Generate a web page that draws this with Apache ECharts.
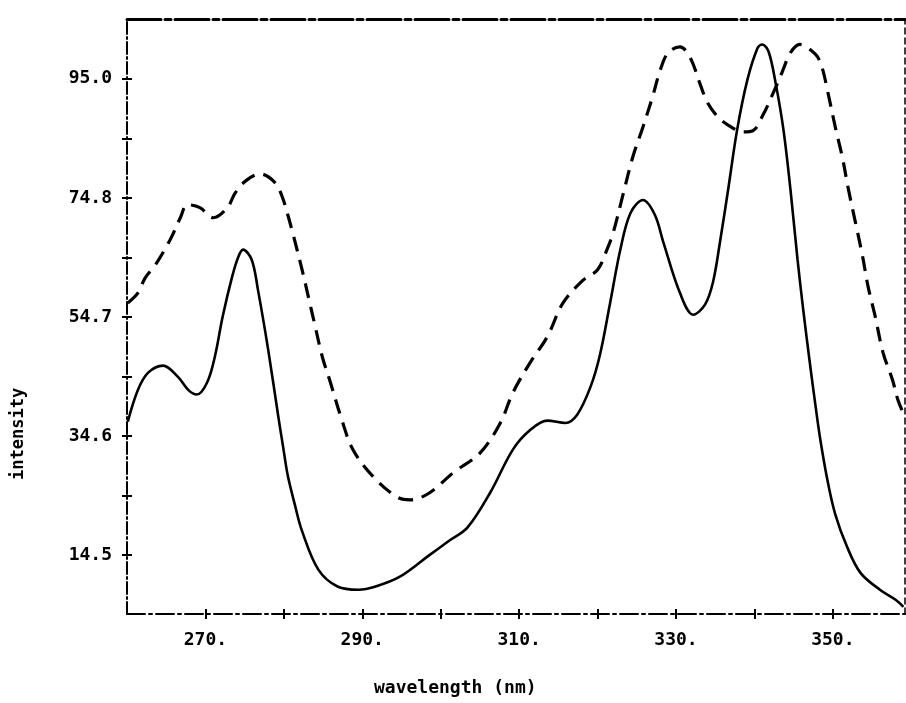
<!DOCTYPE html>
<html>
<head>
<meta charset="utf-8">
<script src="https://cdn.jsdelivr.net/npm/echarts@6/dist/echarts.min.js"></script>
<style>
html,body{margin:0;padding:0;background:#fff;}
#chart{width:906px;height:703px;}
</style>
</head>
<body>
<div id="chart"></div>
<script>
// ---- data (wavelength in nm, intensity) ----
const solidX = [260.1,261.4,262.7,264.6,266.5,267.8,268.9,270.2,271.2,272.2,273.4,274.2,274.8,275.9,276.7,278.0,279.3,279.9,280.5,281.4,282.3,284.4,286.9,289.5,291.6,294.8,298.6,301.2,303.4,306.3,309.2,311.4,313.6,315.9,317.4,319.1,320.3,321.6,322.9,324.2,325.8,327.3,328.4,330.5,332.2,333.7,334.7,335.6,336.7,337.8,339.1,340.4,341.0,341.8,342.7,343.7,344.6,345.5,346.2,347.1,347.8,348.4,349.3,350.3,351.8,353.5,356.0,358.0,359.0];
const solidY = [37.0,42.4,45.3,46.5,44.6,42.4,41.6,43.6,48.0,54.8,61.5,64.9,66.1,64.4,59.3,49.2,37.8,32.8,27.9,23.0,18.6,12.0,9.1,8.6,9.1,10.8,14.5,17.0,19.1,25.0,32.3,35.6,37.2,36.8,38.2,42.9,48.3,57.1,66.1,72.3,74.5,72.0,67.3,58.8,55.1,56.8,60.5,67.3,76.7,86.4,94.8,100.2,100.8,99.6,94.3,86.4,76.2,64.4,56.2,46.6,39.6,34.0,27.2,21.4,15.9,11.5,8.6,6.9,5.7];
const dashedX = [260.1,261.4,262.3,263.6,264.8,265.7,266.8,267.7,269.3,271.0,272.8,273.8,275.3,277.0,278.9,279.8,280.5,281.2,281.7,282.1,282.7,283.3,284.0,284.9,285.9,287.4,288.8,291.4,294.4,296.1,298.6,301.6,305.0,307.6,309.2,311.4,313.6,315.6,318.2,320.0,321.2,322.0,323.3,324.5,325.8,327.0,328.0,329.0,330.5,331.8,333.1,334.0,335.3,336.5,338.6,339.8,341.1,342.4,343.5,344.6,345.8,347.8,348.6,349.3,350.3,351.2,352.0,352.9,353.8,354.5,355.4,356.4,357.6,358.3,359.2];
const dashedY = [57.1,58.8,61.3,63.5,66.1,68.3,71.5,73.7,73.2,71.5,73.2,75.7,77.9,78.9,77.4,75.0,72.0,68.6,66.0,63.9,60.6,57.1,53.1,48.0,43.8,37.3,32.3,27.7,24.3,23.8,25.0,28.4,31.7,36.8,41.9,47.0,51.4,57.1,61.0,62.7,66.1,69.0,75.7,81.8,86.9,91.9,96.5,99.4,100.4,98.6,94.0,91.0,88.6,87.3,86.0,86.2,88.9,92.6,96.0,99.4,100.8,99.1,97.0,93.1,86.9,81.8,76.2,70.6,64.9,59.8,54.8,48.7,44.1,40.7,37.8];

const xTickLabels = [270, 290, 310, 330, 350];
const xTicks = [270, 280, 290, 300, 310, 320, 330, 340, 350];
const yTickLabels = [14.5, 34.6, 54.7, 74.8, 95.0];
const yTicks = [14.5, 24.55, 34.6, 44.65, 54.7, 64.75, 74.8, 84.9, 95.0];
const xTitle = 'wavelength (nm)';
const yTitle = 'intensity';

const pair = (xs, ys) => xs.map((x, i) => [x, ys[i]]);

const FONT = 'DejaVu Sans Mono';
const X_MIN = 260, X_MAX = 359.2, Y_MIN = 4.5, Y_MAX = 105.1;

const chart = echarts.init(document.getElementById('chart'), null, {renderer: 'canvas'});

const baseX = {type: 'value', min: X_MIN, max: X_MAX, splitLine: {show: false}};
const baseY = {type: 'value', min: Y_MIN, max: Y_MAX, splitLine: {show: false}};

chart.setOption({
  backgroundColor: '#ffffff',
  animation: false,
  grid: {left: 127, top: 19, width: 778, height: 595, containLabel: false},
  xAxis: [
    Object.assign({}, baseX, {
      position: 'bottom',
      axisLine: {show: true, lineStyle: {color: '#000', width: 2, type: [18, 4, 3, 4]}},
      axisTick: {show: true, customValues: xTicks, length: 5, lineStyle: {color: '#000', width: 2}},
      axisLabel: {show: true, customValues: xTickLabels, margin: 17, color: '#000',
        fontFamily: FONT, fontWeight: 'bold', fontSize: 18,
        formatter: v => String(Math.round(v)) + '.'}
    }),
    Object.assign({}, baseX, {
      position: 'top',
      axisLine: {show: true, lineStyle: {color: '#000', width: 3, type: [34, 4, 6, 4]}},
      axisTick: {show: false}, axisLabel: {show: false}
    }),
    Object.assign({}, baseX, {
      position: 'bottom',
      axisLine: {show: false},
      axisTick: {show: true, inside: true, customValues: xTicks, length: 5, lineStyle: {color: '#000', width: 2}},
      axisLabel: {show: false}
    })
  ],
  yAxis: [
    Object.assign({}, baseY, {
      position: 'left',
      axisLine: {show: true, lineStyle: {color: '#000', width: 2, type: [12, 3, 2, 3]}},
      axisTick: {show: true, customValues: yTicks, length: 5, lineStyle: {color: '#000', width: 2}},
      axisLabel: {show: true, customValues: yTickLabels, margin: 15, color: '#000',
        fontFamily: FONT, fontWeight: 'bold', fontSize: 18, padding: [9, 0, 0, 0],
        formatter: v => Number(v).toFixed(1)}
    }),
    Object.assign({}, baseY, {
      position: 'right',
      axisLine: {show: true, lineStyle: {color: '#000', width: 1.5, type: [6, 4]}},
      axisTick: {show: false}, axisLabel: {show: false}
    }),
    Object.assign({}, baseY, {
      position: 'left',
      axisLine: {show: false},
      axisTick: {show: true, inside: true, customValues: yTicks, length: 5, lineStyle: {color: '#000', width: 2}},
      axisLabel: {show: false}
    })
  ],
  graphic: [
    {type: 'text', left: 456 - 82, top: 679,
      style: {text: xTitle, fill: '#000', font: 'bold 18px "' + FONT + '"'}},
    {type: 'text', x: 10, y: 480, rotation: Math.PI / 2,
      originX: 0, originY: 0,
      style: {text: yTitle, fill: '#000', font: 'bold 17px "' + FONT + '"', align: 'left', verticalAlign: 'top'}}
  ],
  series: [
    {
      name: 'solid', type: 'line', xAxisIndex: 0, yAxisIndex: 0,
      data: pair(solidX, solidY), smooth: 0.35, showSymbol: false, symbol: 'none',
      lineStyle: {color: '#000', width: 2.6, type: 'solid'}
    },
    {
      name: 'dashed', type: 'line', xAxisIndex: 0, yAxisIndex: 0,
      data: pair(dashedX, dashedY), smooth: 0.35, showSymbol: false, symbol: 'none',
      lineStyle: {color: '#000', width: 3.2, type: [15, 9]}
    }
  ]
});
</script>
</body>
</html>
